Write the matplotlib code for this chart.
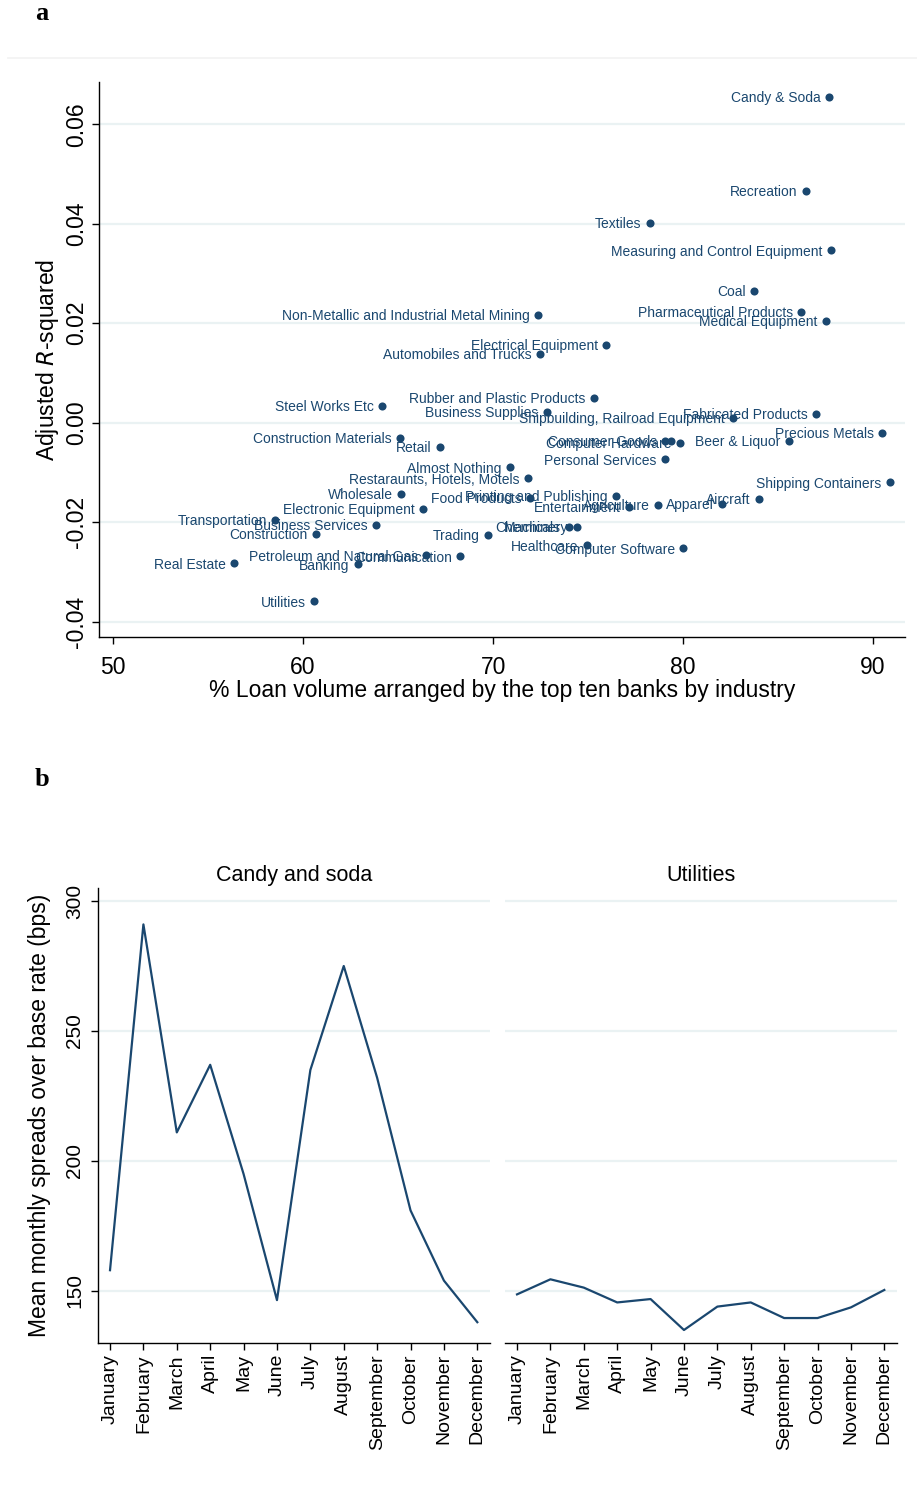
import matplotlib
matplotlib.use("Agg")
import matplotlib.pyplot as plt
from matplotlib.lines import Line2D

plt.rcParams['font.family'] = ['Liberation Sans', 'DejaVu Sans']

# ---------------- Panel a data ----------------
industries = [
    "Candy & Soda", "Recreation", "Textiles", "Measuring and Control Equipment",
    "Coal", "Pharmaceutical Products", "Medical Equipment",
    "Non-Metallic and Industrial Metal Mining", "Electrical Equipment",
    "Automobiles and Trucks", "Rubber and Plastic Products", "Steel Works Etc",
    "Business Supplies", "Shipbuilding, Railroad Equipment", "Fabricated Products",
    "Precious Metals", "Construction Materials", "Retail", "Consumer Goods", "",
    "Computer Hardware", "Beer & Liquor", "Personal Services", "Almost Nothing",
    "Restaraunts, Hotels, Motels", "Shipping Containers", "Wholesale",
    "Printing and Publishing", "Food Products", "Aircraft", "Electronic Equipment",
    "Entertainment", "Agriculture", "Apparel", "Transportation",
    "Business Services", "Construction", "Trading", "Chemicals", "Machinery",
    "Healthcare", "Computer Software", "Communication", "Petroleum and Natural Gas",
    "Banking", "Real Estate", "Utilities",
]
loan_share = [
    87.68, 86.47, 78.26, 87.79,
    83.74, 86.21, 87.53,
    72.37, 75.95,
    72.47, 75.32, 64.16,
    72.84, 82.63, 87.00,
    90.47, 65.10, 67.21, 79.05, 79.37,
    79.84, 85.58, 79.05, 70.89,
    71.84, 90.89, 65.16,
    76.47, 71.95, 84.00, 66.32,
    77.16, 78.68, 82.05, 58.53,
    63.84, 60.68, 69.74, 74.00, 74.42,
    74.95, 80.00, 68.26, 66.47,
    62.89, 56.37, 60.58,
]
adj_r2 = [
    0.0655, 0.0466, 0.0402, 0.0347,
    0.0265, 0.0223, 0.0205,
    0.0217, 0.0157,
    0.0139, 0.0050, 0.0034,
    0.0022, 0.0010, 0.0018,
    -0.0020, -0.0030, -0.0048, -0.0036, -0.0036,
    -0.0040, -0.0036, -0.0074, -0.0090,
    -0.0112, -0.0120, -0.0143,
    -0.0147, -0.0151, -0.0153, -0.0173,
    -0.0169, -0.0165, -0.0163, -0.0195,
    -0.0205, -0.0223, -0.0225, -0.0209, -0.0209,
    -0.0247, -0.0253, -0.0269, -0.0267,
    -0.0285, -0.0283, -0.0359,
]
a_xticks = [50, 60, 70, 80, 90]
a_yticks = [-0.04, -0.02, 0.00, 0.02, 0.04, 0.06]

# ---------------- Panel b data ----------------
months = ["January", "February", "March", "April", "May", "June", "July",
          "August", "September", "October", "November", "December"]
candy_soda = [158, 291, 211, 237, 195, 146.5, 235, 275, 232, 181, 154, 138]
utilities = [148.7, 154.5, 151.3, 145.6, 146.9, 135, 144, 145.6, 139.6, 139.6, 143.7, 150.4]
b_yticks = [150, 200, 250, 300]

navy = "#1a476f"
grid_c = "#eaf2f3"

W, H = 917, 1489
fig = plt.figure(figsize=(W / 100, H / 100), dpi=100)


def rect(l, t, r, b):
    return [l / W, 1 - b / H, (r - l) / W, (b - t) / H]


# faint frame line at top of panel a
fig.add_artist(Line2D([8 / W, 1], [1 - 58 / H, 1 - 58 / H], color="#f2f2f2", lw=1.2))

# panel letters
fig.text(35 / W, 1 - 14 / H, "a", fontsize=19, fontweight="bold",
         family="Liberation Serif", va="center", ha="left")
fig.text(35 / W, 1 - 780 / H, "b", fontsize=19, fontweight="bold",
         family="Liberation Serif", va="center", ha="left")

# ---------------- Panel a ----------------
ax = fig.add_axes(rect(99, 82, 905, 637))
ax.set_xlim(49.26, 91.68)
ax.set_ylim(-0.0431, 0.0685)
for yv in a_yticks:
    ax.axhline(yv, color=grid_c, lw=1.6, zorder=0)
ax.scatter(loan_share, adj_r2, s=34, color=navy, zorder=3, linewidths=0)
for name, xv, yv in zip(industries, loan_share, adj_r2):
    if name:
        ax.annotate(name, (xv, yv), xytext=(-6, 0), textcoords="offset points",
                    ha="right", va="center_baseline", fontsize=10, color=navy)
ax.set_xticks(a_xticks)
ax.set_xticklabels([str(v) for v in a_xticks], fontsize=16.5)
ax.set_yticks(a_yticks)
ax.set_yticklabels(["%.2f" % v for v in a_yticks], fontsize=16.5, rotation=90, va="center")
ax.tick_params(axis="both", direction="out", length=5, width=1, color="black")
ax.tick_params(axis="x", pad=9)
ax.tick_params(axis="y", pad=3)
for s in ["top", "right"]:
    ax.spines[s].set_visible(False)
for s in ["left", "bottom"]:
    ax.spines[s].set_linewidth(1)
ax.set_xlabel("% Loan volume arranged by the top ten banks by industry", fontsize=16.5, labelpad=0)
ax.set_ylabel("Adjusted $\\it{R}$-squared", fontsize=16.5, labelpad=3)

# ---------------- Panel b ----------------
x_idx = list(range(1, 13))
axes_b = [fig.add_axes(rect(98, 888, 490, 1343)), fig.add_axes(rect(505, 888, 897, 1343))]
titles = ["Candy and soda", "Utilities"]
series = [candy_soda, utilities]
for i, (axb, title, vals) in enumerate(zip(axes_b, titles, series)):
    axb.set_xlim(0.64, 12.38)
    axb.set_ylim(130, 305)
    for yv in b_yticks:
        axb.axhline(yv, color=grid_c, lw=1.6, zorder=0)
    axb.plot(x_idx, vals, color=navy, lw=1.6, zorder=3)
    axb.set_xticks(x_idx)
    axb.set_xticklabels(months, rotation=90, fontsize=14)
    axb.tick_params(axis="x", direction="out", length=5, width=1, pad=3)
    axb.set_title(title, fontsize=15.5, pad=5)
    for s in ["top", "right"]:
        axb.spines[s].set_visible(False)
    axb.spines["bottom"].set_linewidth(1)
    if i == 0:
        axb.set_yticks(b_yticks)
        axb.set_yticklabels([str(v) for v in b_yticks], rotation=90, va="center", fontsize=15)
        axb.tick_params(axis="y", direction="out", length=5, width=1, pad=5)
        axb.spines["left"].set_linewidth(1)
        axb.set_ylabel("Mean monthly spreads over base rate (bps)", fontsize=16.5, labelpad=10)
    else:
        axb.set_yticks(b_yticks)
        axb.tick_params(axis="y", length=0, labelleft=False)
        axb.spines["left"].set_visible(False)

fig.savefig("out.png", dpi=100, facecolor="white")
